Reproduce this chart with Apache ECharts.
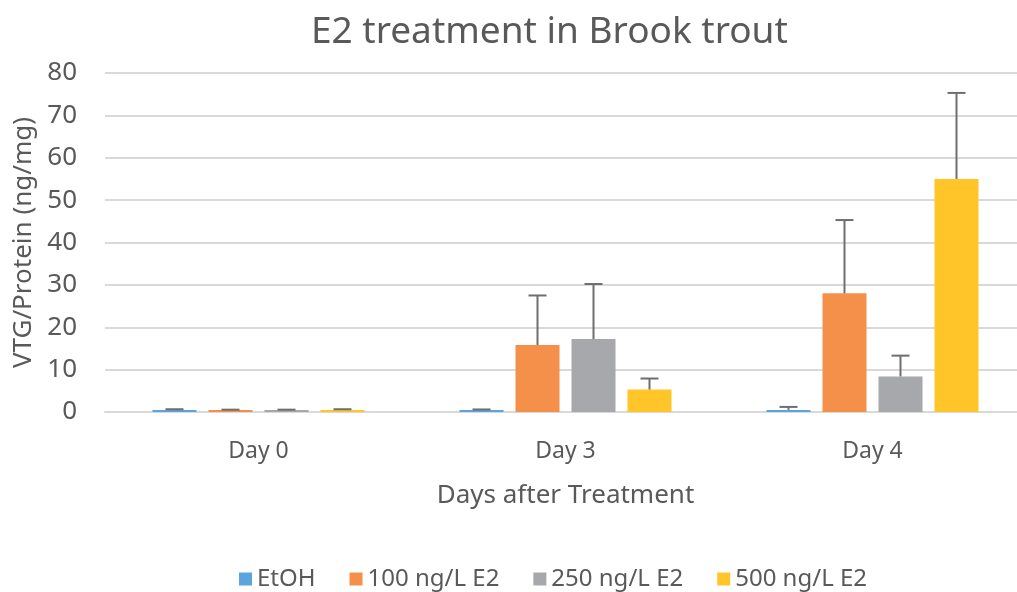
<!DOCTYPE html>
<html>
<head>
<meta charset="utf-8">
<script src="https://cdn.jsdelivr.net/npm/echarts@6/dist/echarts.min.js"></script>
<style>
  html, body { margin: 0; padding: 0; background: #fff; }
  #chart { width: 1017px; height: 592px; }
</style>
</head>
<body>
<div id="chart"></div>
<script>
var days = ["Day 0", "Day 3", "Day 4"];
var groups = ["EtOH", "100 ng/L E2", "250 ng/L E2", "500 ng/L E2"];
var colors = ["#5BA4DC", "#F4904A", "#A7A8AB", "#FFC529"];

// mean values per treatment group
var etoh = [0.5, 0.5, 0.5];
var e2_100 = [0.5, 15.8, 28.0];
var e2_250 = [0.5, 17.2, 8.4];
var e2_500 = [0.5, 5.3, 55.0];

// upper error (SD) per treatment group
var etohErr = [0.15, 0.1, 0.7];
var e2_100Err = [0.05, 11.7, 17.3];
var e2_250Err = [0.05, 13.0, 4.9];
var e2_500Err = [0.15, 2.6, 20.3];

var yTicks = [0, 10, 20, 30, 40, 50, 60, 70, 80];

var means = [etoh, e2_100, e2_250, e2_500];
var errs = [etohErr, e2_100Err, e2_250Err, e2_500Err];

var font = "Noto Sans";
var textColor = "#595959";
var barW = 44, barGapPx = 12;

var series = [];
groups.forEach(function (name, i) {
  series.push({
    name: name,
    type: "bar",
    barWidth: barW,
    barGap: (barGapPx / barW * 100) + "%",
    itemStyle: { color: colors[i] },
    data: means[i],
    z: 2
  });
});
groups.forEach(function (name, i) {
  var offset = (i - 1.5) * (barW + barGapPx);
  series.push({
    name: name,
    type: "custom",
    z: 5,
    data: means[i].map(function (v, k) { return [k, v, v + errs[i][k]]; }),
    renderItem: function (params, api) {
      var base = api.coord([api.value(0), api.value(1)]);
      var top = api.coord([api.value(0), api.value(2)]);
      var x = base[0] + offset;
      var style = { stroke: "#6D6E71", lineWidth: 2 };
      return {
        type: "group",
        children: [
          { type: "line", shape: { x1: x, y1: base[1], x2: x, y2: top[1] }, style: style },
          { type: "line", shape: { x1: x - 9, y1: top[1], x2: x + 9, y2: top[1] }, style: style }
        ]
      };
    }
  });
});

var myChart = echarts.init(document.getElementById("chart"));
var option = {
  backgroundColor: "#fff",
  animation: false,
  textStyle: { fontFamily: font },
  title: {
    text: "E2 treatment in Brook trout",
    left: 306,
    top: 9,
    textStyle: { fontFamily: font, fontSize: 37, fontWeight: "normal", color: textColor }
  },
  legend: {
    data: groups,
    top: 562,
    left: 234,
    itemWidth: 13,
    itemHeight: 13,
    itemGap: 34,
    icon: "rect",
    textStyle: { fontFamily: font, fontSize: 24, color: textColor }
  },
  grid: { left: 105, top: 73, width: 921, height: 339, outerBoundsMode: "none" },
  xAxis: {
    type: "category",
    data: days,
    name: "Days after Treatment",
    nameLocation: "middle",
    nameGap: 71,
    nameTextStyle: { fontFamily: font, fontSize: 26, color: textColor },
    axisLine: { lineStyle: { color: "#D9D9D9", width: 2 } },
    axisTick: { show: false },
    axisLabel: { fontSize: 23, color: textColor, margin: 28 }
  },
  yAxis: {
    type: "value",
    min: yTicks[0],
    max: yTicks[yTicks.length - 1],
    interval: 10,
    name: "VTG/Protein (ng/mg)",
    nameLocation: "middle",
    nameGap: 67,
    nameTextStyle: { fontFamily: font, fontSize: 26, color: textColor },
    axisLine: { show: false },
    axisTick: { show: false },
    axisLabel: { fontSize: 26, color: textColor, margin: 28 },
    splitLine: { lineStyle: { color: "#D9D9D9", width: 2 } }
  },
  series: series
};
myChart.setOption(option);
</script>
</body>
</html>
